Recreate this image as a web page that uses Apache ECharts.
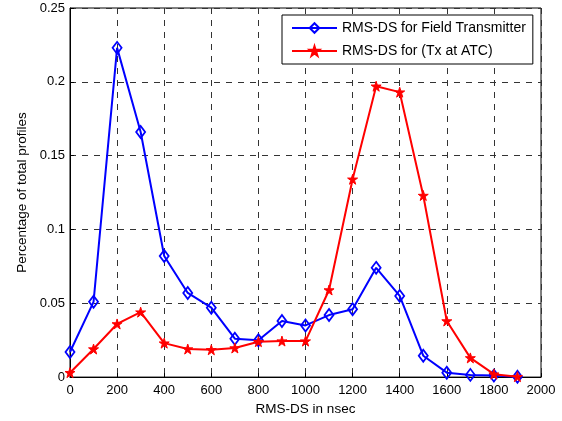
<!DOCTYPE html>
<html><head><meta charset="utf-8">
<script src="https://cdn.jsdelivr.net/npm/echarts@6/dist/echarts.min.js"></script>
<style>html,body{margin:0;padding:0;background:#fff}#c{width:562px;height:421px}</style>
</head><body><div id="c"></div>
<script>
const xValues = [0,100,200,300,400,500,600,700,800,900,1000,1100,1200,1300,1400,1500,1600,1700,1800,1900];
const fieldTx = [0.017,0.051,0.223,0.166,0.082,0.057,0.047,0.026,0.025,0.038,0.035,0.042,0.046,0.074,0.055,0.0145,0.003,0.0015,0.001,0.0002];
const txAtc = [0.003,0.019,0.036,0.044,0.023,0.019,0.0185,0.0197,0.024,0.0244,0.0244,0.059,0.134,0.197,0.193,0.123,0.038,0.013,0.002,0.0003];
const seriesNames = ['RMS-DS for Field Transmitter','RMS-DS for (Tx at ATC)'];

const star = 'path://M50,0 L61.2,34.5 L97.6,34.5 L68.2,55.9 L79.4,90.5 L50,69.1 L20.6,90.5 L31.8,55.9 L2.4,34.5 L38.8,34.5 Z';
const font = 'Liberation Sans, Arial, sans-serif';
const chart = echarts.init(document.getElementById('c'), null, {renderer:'canvas'});
const pair = a => xValues.map((x,i)=>[x,a[i]]);
const gridLine = {show:true,lineStyle:{color:'#333',type:[6,6],width:1}};
chart.setOption({
  animation:false,
  textStyle:{fontFamily:font},
  grid:{left:70,right:21,top:8,bottom:39.5,show:true,borderColor:'#000',borderWidth:1,backgroundColor:'#fff'},
  legend:{
    orient:'vertical',left:282,top:15,padding:[6,7,6,9],itemWidth:45,itemHeight:12,itemGap:9,itemTextGap:5,
    backgroundColor:'#fff',borderColor:'#000',borderWidth:1,borderRadius:0,
    textStyle:{fontFamily:font,fontSize:14,color:'#000'},
    data:seriesNames
  },
  xAxis:{
    type:'value',min:0,max:2000,interval:200,
    name:'RMS-DS in nsec',nameLocation:'middle',nameGap:24,
    nameTextStyle:{fontFamily:font,fontSize:13.5,color:'#000',verticalAlign:'top'},
    axisLine:{show:true,lineStyle:{color:'#000'}},
    axisTick:{show:true,inside:true,length:4,lineStyle:{color:'#000'}},
    axisLabel:{fontFamily:font,fontSize:13,color:'#000',margin:7,formatter:v=>String(v)},
    splitLine:gridLine
  },
  yAxis:{
    type:'value',min:0,max:0.25,interval:0.05,
    name:'Percentage of total profiles',nameLocation:'middle',nameGap:40,
    nameTextStyle:{fontFamily:font,fontSize:13.5,color:'#000'},
    axisLine:{show:true,lineStyle:{color:'#000'}},
    axisTick:{show:true,inside:true,length:4,lineStyle:{color:'#000'}},
    axisLabel:{fontFamily:font,fontSize:13,color:'#000',margin:5},
    splitLine:gridLine
  },
  series:[
    {name:seriesNames[0],type:'line',data:pair(fieldTx),symbol:'diamond',symbolSize:[9,12],
     lineStyle:{color:'#0000ff',width:2},itemStyle:{color:'rgba(255,255,255,0)',borderColor:'#0000ff',borderWidth:1.8},
     showAllSymbol:true,z:3},
    {name:seriesNames[1],type:'line',data:pair(txAtc),symbol:star,symbolSize:10,
     lineStyle:{color:'#ff0000',width:2},itemStyle:{color:'#ff0000',borderColor:'#ff0000',borderWidth:1},
     showAllSymbol:true,z:4}
  ]
});
</script></body></html>
